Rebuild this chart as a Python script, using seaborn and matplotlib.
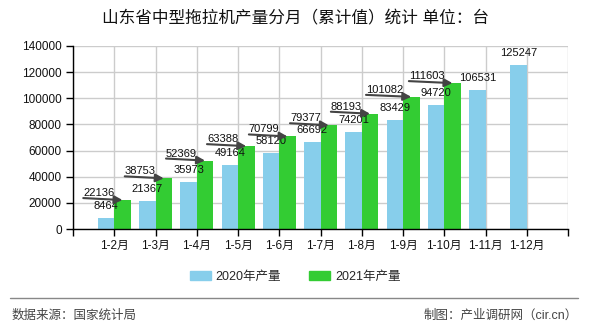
import numpy as np
import pandas as pd
import seaborn as sns
import matplotlib
matplotlib.use("Agg")
import matplotlib.pyplot as plt
from matplotlib.lines import Line2D

# Monthly cumulative output of medium tractors in Shandong (units)
months = ["1-2月", "1-3月", "1-4月", "1-5月", "1-6月", "1-7月", "1-8月",
          "1-9月", "1-10月", "1-11月", "1-12月"]
output_2020 = [8464, 21367, 35973, 49164, 58120, 66692, 74201, 83429, 94720,
               106531, 125247]
output_2021 = [22136, 38753, 52369, 63388, 70799, 79377, 88193, 101082, 111603,
               None, None]
series_names = ["2020年产量", "2021年产量"]
colors = ["#87CEEB", "#33CC33"]
y_ticks = [0, 20000, 40000, 60000, 80000, 100000, 120000, 140000]

sns.set_theme(style="white")
plt.rcParams["font.family"] = ["Liberation Sans", "Noto Sans CJK SC", "DejaVu Sans"]

df = pd.DataFrame({
    "month": months * 2,
    "series": [series_names[0]] * len(months) + [series_names[1]] * len(months),
    "value": [np.nan if v is None else v for v in output_2020 + output_2021],
})

fig = plt.figure(figsize=(5.9, 3.3), dpi=100)
ax = fig.add_axes([73 / 590, 1 - 229 / 330, 495 / 590, 183 / 330])

sns.barplot(data=df, x="month", y="value", hue="series", order=months,
            hue_order=series_names, palette=colors, width=0.8, errorbar=None,
            saturation=1, linewidth=0, ax=ax, legend=False)

ax.set_xlim(-1, 11)
ax.set_ylim(0, 140000)
ax.set_yticks(y_ticks)
ax.set_yticklabels([str(v) for v in y_ticks], fontsize=8.5, color="#111")
ax.set_xticks(range(-1, 12))
ax.set_xticklabels([""] + months + [""], fontsize=8.5, color="#111")
ax.set_xlabel("")
ax.set_ylabel("")

ax.grid(True, color="#cccccc", linewidth=1)
ax.set_axisbelow(True)
for side in ["top", "right"]:
    ax.spines[side].set_visible(False)
for side in ["left", "bottom"]:
    ax.spines[side].set_color("#000")
    ax.spines[side].set_linewidth(1)
ax.tick_params(axis="both", which="major", length=5, width=1, color="#000",
               direction="out", bottom=True, left=True, pad=3)

# 2020 value labels above the blue bars
for i, v in enumerate(output_2020):
    ax.annotate(str(v), xy=(i - 0.2, v), xytext=(0, 12), textcoords="offset pixels",
                ha="center", va="center", fontsize=8, color="#111")

# 2021 value labels, underlined by a pointer line to the green bar top
for i, v in enumerate(output_2021):
    if v is None:
        continue
    ax.annotate(str(v), xy=(i + 0.2, v), xytext=(-8, 2), textcoords="offset pixels",
                ha="right", va="bottom", fontsize=8, color="#111",
                arrowprops=dict(arrowstyle="-|>,head_length=0.6,head_width=0.3",
                                color="#444", lw=1.5, shrinkA=0, shrinkB=0,
                                patchA=None, relpos=(0, 0), mutation_scale=8))

# Legend
handles = [plt.Rectangle((0, 0), 1, 1, color=c) for c in colors]
fig.legend(handles, series_names, loc="center", bbox_to_anchor=(0.5, 1 - 277 / 330),
           ncol=2, frameon=False, fontsize=9, handlelength=1.7, handleheight=0.7,
           columnspacing=2.2, handletextpad=0.4)

# Title
fig.text(0.5, 1 - 18 / 330, "山东省中型拖拉机产量分月（累计值）统计 单位：台",
         ha="center", va="center", fontsize=12, color="#111")

# Footer
fig.add_artist(Line2D([10 / 590, 578 / 590], [1 - 298 / 330] * 2,
                      color="#888888", linewidth=1, transform=fig.transFigure))
fig.text(12 / 590, 1 - 316 / 330, "数据来源：国家统计局", ha="left", va="center",
         fontsize=9, color="#444")
fig.text(578 / 590, 1 - 316 / 330, "制图：产业调研网（cir.cn）", ha="right", va="center",
         fontsize=9, color="#444")

fig.savefig("out.png", dpi=100)
